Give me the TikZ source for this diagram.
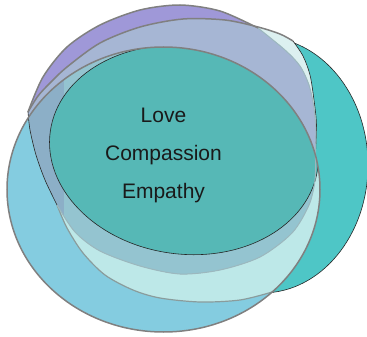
\documentclass[tikz,border=0pt]{standalone}
\usepackage{fontspec}
\setmainfont{Liberation Sans}
\definecolor{tealR}{RGB}{78,198,198}
\definecolor{purp}{RGB}{159,152,216}
\definecolor{bgray}{RGB}{166,182,212}
\definecolor{lstrip}{RGB}{220,240,240}
\definecolor{lblue}{RGB}{132,204,224}
\definecolor{lband}{RGB}{189,232,232}
\definecolor{pthreeA}{RGB}{140,175,199}
\definecolor{pthreeB}{RGB}{148,196,208}
\definecolor{ctr}{RGB}{86,184,182}
\definecolor{olg}{RGB}{128,128,128}
\definecolor{ilg}{RGB}{138,156,156}
\definecolor{ilgb}{RGB}{156,184,190}
\definecolor{txt}{RGB}{26,26,26}
\tikzset{
 Ppath/.style={insert path={plot[smooth] coordinates {(28,112) (43,77) (67,47) (100,25) (140,10) (180,5) (220,11) (258,28)} -- plot[smooth] coordinates {(258,28) (285,50) (300,66) (309,85) (313.5,105) (315.8,128) (315.5,155) (315,180) (309,205) (292,233) (260,257) (220,270) (180,274) (140,266) (100,251) (75,232) (57,205)} -- plot[smooth] coordinates {(57,205) (45,180) (36,155) (30,130) (28,112)} -- cycle}},
 Epath/.style={insert path={plot[smooth] coordinates {(28,112) (38,96) (50,83) (67,67) (100,43) (140,27) (183,19) (225,20) (258,27) (280,34) (293,41)} -- plot[smooth] coordinates {(293,41) (303,56) (310,75) (314,100) (316.5,125) (315.35,155.03)} arc [start angle=-14, end angle=46, x radius=156.5, y radius=142.5] -- plot[smooth] coordinates {(272.2,292) (240,300) (200,302) (160,298) (133,290) (105,275) (83,253) (67,228) (57,205)} -- plot[smooth] coordinates {(57,205) (45,180) (36,155) (30,130) (28,112)} -- cycle}},
 Tpath/.style={insert path={(163.5,189.5) ellipse [x radius=156.5, y radius=142.5]}},
 gline/.style={draw=olg,line width=1.5pt},
 iline/.style={draw=ilg,line width=1.2pt},
 jline/.style={draw=ilgb,line width=1pt},
 bline/.style={draw=black!85,line width=0.6pt},
 lbl/.style={font=\fontsize{21}{25}\selectfont,text=txt,inner sep=0pt,anchor=base}
}
\begin{document}
\begin{tikzpicture}[x=1pt,y=-1pt]
\useasboundingbox (0,0) rectangle (367,337);
% teal crescent (back)
\path[fill=tealR,bline] (262,165) ellipse [x radius=106, y radius=128];
% light cyan shape
\path[fill=lstrip,Epath];
% purple shape
\path[fill=purp,Ppath];
\begin{scope}
 \clip[Epath];
 \path[fill=bgray,Ppath];
\end{scope}
% light blue front ellipse
\path[fill=lblue,Tpath];
\begin{scope}
 \clip[Tpath];
 \path[fill=lband,Epath];
 \path[fill=pthreeA,Ppath];
 \begin{scope}
  \clip (64,0) rectangle (367,337);
  \path[fill=pthreeB,Ppath];
 \end{scope}
 \path[fill=ctr,rotate around={-8:(184,150)}] (184,150) ellipse [x radius=135, y radius=104];
 \path[bline,rotate around={-8:(184,150)}] (184,150) ellipse [x radius=135, y radius=104];
\end{scope}
% outlines
\draw[gline] plot[smooth] coordinates {(28,112) (38,96) (50,83) (67,67) (100,43) (140,27) (183,19) (225,20) (258,27) (280,34) (293,41)};
\draw[bline] plot[smooth] coordinates {(293,41) (303,56) (310,75) (314,100) (316.5,125) (315.35,155.03)};
\draw[iline] plot[smooth] coordinates {(272.2,292) (240,300) (200,302) (160,298) (133,290) (105,275) (83,253) (67,228) (57,205)};
\draw[bline] plot[smooth] coordinates {(57,205) (45,180) (36,155) (30,130) (28,112)};
\draw[gline] plot[smooth] coordinates {(28,112) (43,77) (67,47) (100,25) (140,10) (180,5) (220,11) (258,28)};
\draw[jline] plot[smooth] coordinates {(258,28) (285,50) (300,66) (309,85) (313.5,105) (315.8,128) (315.5,155) (315,180) (309,205) (292,233) (260,257) (220,270) (180,274) (140,266) (100,251) (75,232) (57,205)};
\draw[gline,Tpath];
% labels
\node[lbl] (love) at (163.5,122.5) {Love};
\node[lbl] (comp) at (163.5,160.5) {Compassion};
\node[lbl] (emp) at (163.5,198) {Empathy};
\end{tikzpicture}
\end{document}
